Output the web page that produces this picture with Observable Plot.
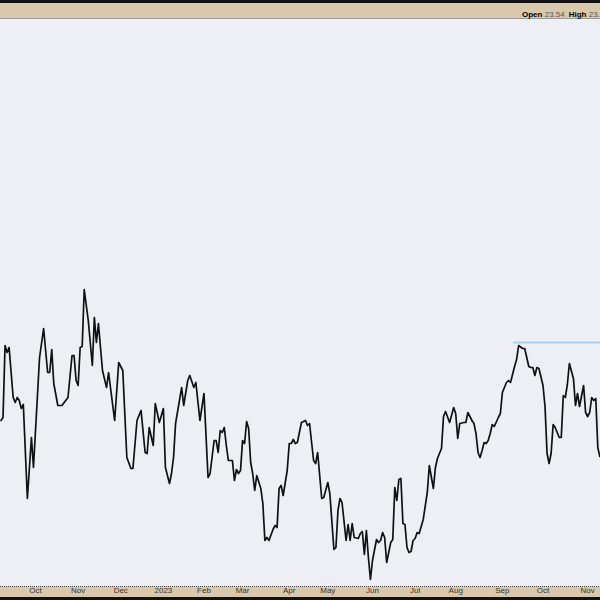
<!DOCTYPE html>
<html>
<head>
<meta charset="utf-8">
<script src="https://cdn.jsdelivr.net/npm/d3@7"></script>
<script src="https://cdn.jsdelivr.net/npm/@observablehq/plot@0.6"></script>
<style>
  html, body { margin: 0; padding: 0; background: #ffffff; }
  #wrap { position: relative; width: 600px; height: 600px; overflow: hidden; background: #d9c8ab; font-family: "Liberation Sans", Arial, sans-serif; }
  #top { position: relative; height: 19px; box-sizing: border-box; border-top: 3px solid #111; border-bottom: 1px solid #9a9a9a; background: #d9c8ab; }
  #quote { position: absolute; left: 522px; top: 7px; font-size: 8px; white-space: nowrap; color: #000; }
  #quote b { font-weight: bold; }
  #quote span { color: #555; margin-right: 4px; }
  #chart svg { display: block; }
  #bottom { height: 3px; background: #111; }
</style>
</head>
<body>
<div id="wrap">
  <div id="top"><div id="quote"></div></div>
  <div id="chart"></div>
  <div id="bottom"></div>
</div>
<script>
// trading-day index (0 = first trading day of Oct 2022) and closing values
const days = [-17,-16,-15,-14,-13,-11,-10,-9,-8,-7,-6,-4,-2,-1,2,4,6,7,8,9,11,13,16,18,19,20,21,22,23,24,26,28,29,30,31,33,35,36,39,41,43,45,47,48,50,52,54,55,56,58,59,61,63,64,66,67,68,69,72,73,75,76,78,79,81,83,84,85,86,88,89,90,91,92,93,94,95,97,98,99,100,101,102,103,104,105,106,107,108,109,111,112,113,114,115,117,118,119,120,121,122,124,125,126,127,128,129,131,133,134,135,137,138,139,141,142,144,145,147,148,149,150,151,153,154,155,156,157,159,160,161,162,163,164,165,166,168,169,170,171,172,173,175,176,177,178,179,180,181,182,183,184,185,186,187,188,189,191,193,194,196,197,198,200,201,202,204,206,207,208,209,211,212,213,215,216,217,218,219,220,221,222,223,224,225,226,228,229,230,232,233,234,236,237,238,240,241,243,244,245,246,247,248,250,251,252,253,254,255,256,258,259,260,261,262,263,265,266,267,268,270,271,272,273,274,275,276,277,278];
const prices = [19.00,19.15,22.75,22.40,22.65,20.15,19.90,20.15,20.00,19.60,19.80,15.10,18.15,16.65,22.15,23.60,21.40,21.40,22.55,20.85,19.75,19.75,20.15,22.25,22.25,21.00,20.75,22.65,22.70,25.55,24.00,21.75,24.15,22.90,23.85,21.50,20.65,21.40,19.00,21.90,21.50,17.15,16.60,16.60,19.00,19.50,17.40,17.35,18.65,17.75,19.85,18.90,19.60,16.65,15.85,16.35,17.15,18.85,20.65,19.75,21.00,21.25,20.65,20.90,19.00,20.35,18.25,16.15,16.35,18.00,18.00,17.40,18.50,18.40,18.65,17.75,17.00,17.00,16.00,16.55,16.35,16.50,18.00,17.85,18.95,18.60,16.90,16.35,15.50,16.25,15.60,14.85,13.00,13.15,13.00,13.55,13.75,13.65,15.60,15.75,15.25,16.50,17.85,17.85,18.05,17.85,17.90,18.90,19.00,18.75,18.85,17.00,16.85,17.40,15.10,15.15,15.90,15.35,12.55,12.65,14.50,15.10,14.90,13.00,13.80,13.00,13.85,13.15,13.10,13.35,13.45,12.30,13.50,12.15,11.05,12.00,13.05,12.90,13.00,13.40,13.15,11.90,12.90,13.05,15.65,15.00,16.05,16.10,13.85,13.80,12.65,12.40,12.45,13.00,13.10,13.40,13.35,14.05,15.40,16.75,15.60,16.65,17.10,17.60,19.20,19.45,18.90,19.65,19.35,18.10,18.85,18.90,18.90,19.40,19.00,18.85,18.35,17.40,17.15,17.50,17.90,17.85,18.00,18.35,18.80,18.70,19.15,19.35,20.40,20.90,21.00,20.90,21.70,22.05,22.75,22.60,22.60,21.70,21.65,21.65,21.25,21.65,21.60,20.75,19.70,17.35,16.85,17.35,18.80,18.65,18.15,18.15,20.25,20.15,20.80,21.85,21.10,19.75,20.35,19.70,20.75,19.40,19.20,19.40,20.15,20.00,20.10,17.65,17.20];

// month tick positions (trading-day index of first session) and labels
const monthTicks = [0, 21, 42, 63, 83, 102, 125, 144, 166, 187, 207, 230, 250, 272];
const monthLabels = ["Oct", "Nov", "Dec", "2023", "Feb", "Mar", "Apr", "May", "Jun", "Jul", "Aug", "Sep", "Oct", "Nov"];

// horizontal resistance line
const resistanceStart = [235.5];
const resistanceLevel = [22.9];

// quote header
const quoteFields = ["Open", "High"];
const quoteValues = ["23.54", "23.54"];

const data = days.map((d, i) => ({day: d, price: prices[i]}));

document.getElementById("quote").innerHTML = quoteFields
  .map((f, i) => `<b>${f}</b> <span>${quoteValues[i]}</span>`).join("");

const xDomain = [-17.24, 278.33];
const yDomain = [10.7, 39.05];

const chart = Plot.plot({
  width: 600,
  height: 578,
  marginTop: 0,
  marginRight: 0,
  marginBottom: 11,
  marginLeft: 0,
  style: {background: "transparent", fontFamily: "Liberation Sans, Arial, sans-serif", fontSize: "8px", overflow: "visible"},
  x: {type: "linear", domain: xDomain, axis: null},
  y: {domain: yDomain, axis: null},
  marks: [
    Plot.frame({fill: "#eeeef5", stroke: null, insetLeft: -2, insetRight: -2, insetTop: -2}),
    Plot.ruleY([yDomain[0]], {stroke: "#444", strokeWidth: 1, strokeDasharray: "1,1"}),
    Plot.ruleY(resistanceLevel, {x1: resistanceStart[0], x2: xDomain[1], stroke: "#a8d2ec", strokeWidth: 2}),
    Plot.line(data, {x: "day", y: "price", stroke: "#111", strokeWidth: 1.7, clip: true}),
    Plot.text(monthTicks, {
      x: d => d,
      text: (d, i) => monthLabels[i],
      frameAnchor: "bottom",
      dy: 6.5,
      fill: "#333",
      fontWeight: (d, i) => monthLabels[i] === "2023" ? "bold" : "normal"
    })
  ]
});
document.getElementById("chart").appendChild(chart);
</script>
</body>
</html>
